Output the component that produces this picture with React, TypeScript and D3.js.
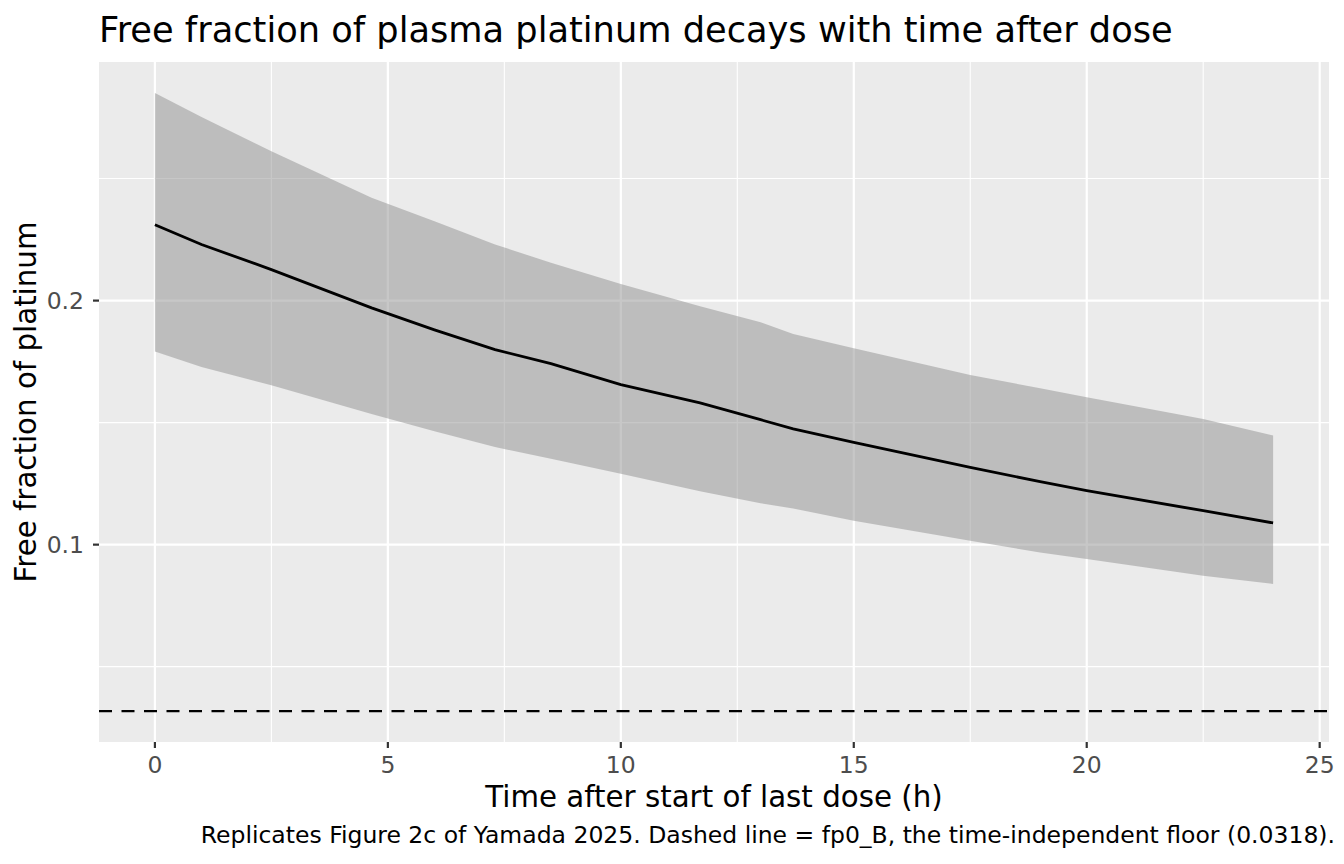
import * as d3 from "d3";

// time after start of last dose (h)
const hours = [0, 1, 2.5, 4.65, 6, 7.3, 8.5, 10, 11.7, 13, 13.7, 15, 17.5, 19, 20, 22.5, 24];
// median free fraction
const fpMedian = [0.2311, 0.223, 0.2127, 0.197, 0.188, 0.1799, 0.1742, 0.1656, 0.1581, 0.1512, 0.1474, 0.1419, 0.1317, 0.1258, 0.1221, 0.1139, 0.1089];
// band limits
const fpUpper = [0.2851, 0.2752, 0.2612, 0.2421, 0.2325, 0.223, 0.2155, 0.2068, 0.1977, 0.1911, 0.1863, 0.1805, 0.1695, 0.1641, 0.1604, 0.1515, 0.1447];
const fpLower = [0.1791, 0.1728, 0.1653, 0.1535, 0.1465, 0.14, 0.1352, 0.129, 0.1219, 0.117, 0.1148, 0.1098, 0.1016, 0.0968, 0.0941, 0.0873, 0.0839];
const floorValue = 0.0318;

const xTicks = [0, 5, 10, 15, 20, 25];
const xMinor = [2.5, 7.5, 12.5, 17.5, 22.5];
const yTicks = [0.1, 0.2];
const yMinor = [0.05, 0.15, 0.25];

const W = 1344;
const H = 864;
const panel = { left: 99, right: 1329, top: 62, bottom: 742 };
const font = "DejaVu Sans, sans-serif";

export default function App() {
  const rows = hours.map((t, i) => ({ t, mid: fpMedian[i], lo: fpLower[i], hi: fpUpper[i] }));

  const xPad = (d3.max(hours)! - d3.min(hours)!) * 0.05;
  const x = d3
    .scaleLinear()
    .domain([d3.min(hours)! - xPad, d3.max(hours)! + xPad])
    .range([panel.left, panel.right]);

  const yMin = Math.min(floorValue, d3.min(fpLower)!);
  const yMax = d3.max(fpUpper)!;
  const yPad = (yMax - yMin) * 0.05;
  const y = d3
    .scaleLinear()
    .domain([yMin - yPad, yMax + yPad])
    .range([panel.bottom, panel.top]);

  const band = d3
    .area<(typeof rows)[number]>()
    .x((d) => x(d.t))
    .y0((d) => y(d.lo))
    .y1((d) => y(d.hi));

  const line = d3
    .line<(typeof rows)[number]>()
    .x((d) => x(d.t))
    .y((d) => y(d.mid));

  return (
    <svg
      width={W}
      height={H}
      style={{ position: "absolute", left: 0, top: 0, background: "#fff" }}
      fontFamily={font}
    >
      <rect
        x={panel.left}
        y={panel.top}
        width={panel.right - panel.left}
        height={panel.bottom - panel.top}
        fill="#ebebeb"
      />
      {/* minor grid */}
      {xMinor.map((v) => (
        <line key={"xm" + v} x1={x(v)} x2={x(v)} y1={panel.top} y2={panel.bottom} stroke="#fff" strokeWidth={1.1} />
      ))}
      {yMinor.map((v) => (
        <line key={"ym" + v} x1={panel.left} x2={panel.right} y1={y(v)} y2={y(v)} stroke="#fff" strokeWidth={1.1} />
      ))}
      {/* major grid */}
      {xTicks.map((v) => (
        <line key={"xg" + v} x1={x(v)} x2={x(v)} y1={panel.top} y2={panel.bottom} stroke="#fff" strokeWidth={2.2} />
      ))}
      {yTicks.map((v) => (
        <line key={"yg" + v} x1={panel.left} x2={panel.right} y1={y(v)} y2={y(v)} stroke="#fff" strokeWidth={2.2} />
      ))}

      <path d={band(rows) ?? ""} fill="#8f8f8f" fillOpacity={0.5} />
      <path d={line(rows) ?? ""} fill="none" stroke="#000" strokeWidth={2.8} />
      <line
        x1={panel.left}
        x2={panel.right}
        y1={y(floorValue)}
        y2={y(floorValue)}
        stroke="#000"
        strokeWidth={2.2}
        strokeDasharray="13,9.5"
      />

      {/* axes */}
      {xTicks.map((v) => (
        <g key={"xt" + v}>
          <line x1={x(v)} x2={x(v)} y1={panel.bottom} y2={panel.bottom + 6} stroke="#333" strokeWidth={2.2} />
          <text x={x(v)} y={773} textAnchor="middle" fontSize={23.5} fill="#4d4d4d">
            {v}
          </text>
        </g>
      ))}
      {yTicks.map((v) => (
        <g key={"yt" + v}>
          <line x1={panel.left - 6} x2={panel.left} y1={y(v)} y2={y(v)} stroke="#333" strokeWidth={2.2} />
          <text x={84} y={y(v)} dy="0.36em" textAnchor="end" fontSize={23.5} fill="#4d4d4d">
            {v}
          </text>
        </g>
      ))}

      <text x={(panel.left + panel.right) / 2} y={807} textAnchor="middle" fontSize={29.3} fill="#000">
        Time after start of last dose (h)
      </text>
      <text
        transform={`translate(36,${(panel.top + panel.bottom) / 2}) rotate(-90)`}
        textAnchor="middle"
        fontSize={29.3}
        fill="#000"
      >
        Free fraction of platinum
      </text>
      <text x={panel.left} y={42} fontSize={35.2} fill="#000">
        Free fraction of plasma platinum decays with time after dose
      </text>
      <text x={1335} y={843} textAnchor="end" fontSize={23.5} fill="#000">
        Replicates Figure 2c of Yamada 2025. Dashed line = fp0_B, the time-independent floor (0.0318).
      </text>
    </svg>
  );
}
